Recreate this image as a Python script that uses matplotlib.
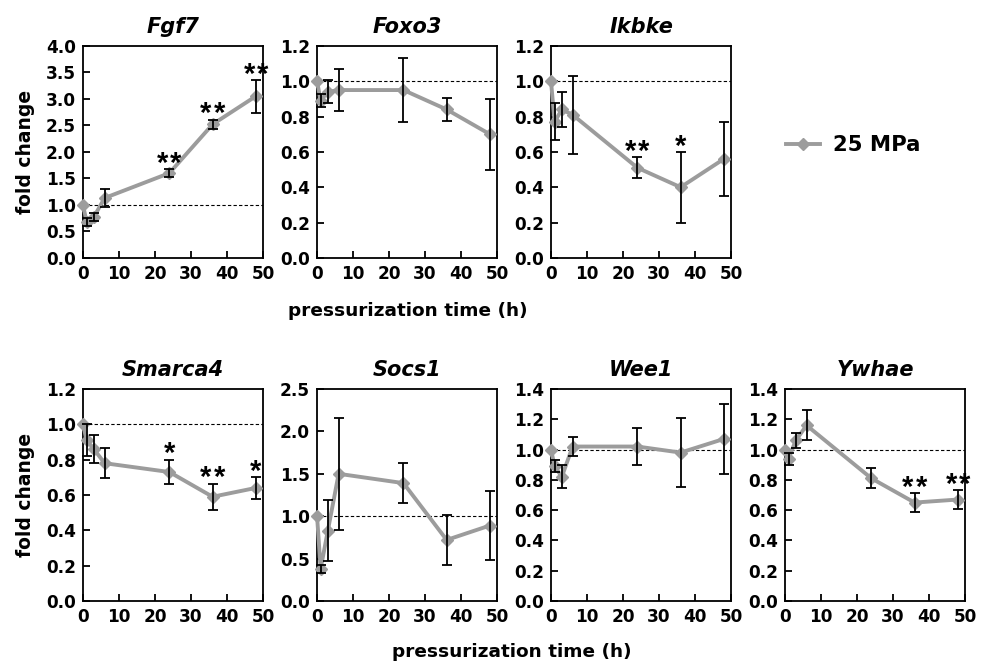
import numpy as np
import matplotlib.pyplot as plt
from matplotlib.lines import Line2D

plt.rcParams['font.family'] = ['DejaVu Sans']
plt.rcParams['font.weight'] = 'bold'

TIMES = [0, 1, 3, 6, 24, 36, 48]

GENES = ['Fgf7', 'Foxo3', 'Ikbke', 'Smarca4', 'Socs1', 'Wee1', 'Ywhae']

fgf7_mean = [1.00, 0.68, 0.77, 1.13, 1.60, 2.52, 3.05]
fgf7_err = [0.00, 0.08, 0.07, 0.17, 0.07, 0.09, 0.31]
fgf7_stars = ['', '', '', '', '**', '**', '**']

foxo3_mean = [1.00, 0.89, 0.94, 0.95, 0.95, 0.84, 0.70]
foxo3_err = [0.00, 0.035, 0.065, 0.12, 0.18, 0.065, 0.20]
foxo3_stars = [''] * 7

ikbke_mean = [1.00, 0.77, 0.84, 0.81, 0.51, 0.40, 0.56]
ikbke_err = [0.00, 0.105, 0.10, 0.22, 0.06, 0.20, 0.21]
ikbke_stars = ['', '', '', '', '**', '*', '']

smarca4_mean = [1.00, 0.91, 0.86, 0.78, 0.73, 0.59, 0.64]
smarca4_err = [0.00, 0.09, 0.08, 0.085, 0.07, 0.075, 0.06]
smarca4_stars = ['', '', '', '', '*', '**', '*']

socs1_mean = [1.00, 0.38, 0.83, 1.50, 1.39, 0.72, 0.89]
socs1_err = [0.00, 0.05, 0.36, 0.66, 0.24, 0.30, 0.41]
socs1_stars = [''] * 7

wee1_mean = [1.00, 0.89, 0.82, 1.02, 1.02, 0.98, 1.07]
wee1_err = [0.00, 0.04, 0.075, 0.06, 0.12, 0.23, 0.23]
wee1_stars = [''] * 7

ywhae_mean = [1.00, 0.94, 1.06, 1.16, 0.81, 0.65, 0.67]
ywhae_err = [0.00, 0.04, 0.05, 0.10, 0.065, 0.06, 0.06]
ywhae_stars = ['', '', '', '', '', '**', '**']

Y_LIMITS = [4.0, 1.2, 1.2, 1.2, 2.5, 1.4, 1.4]
Y_STEPS = [0.5, 0.2, 0.2, 0.2, 0.5, 0.2, 0.2]

SERIES = [
    (fgf7_mean, fgf7_err, fgf7_stars),
    (foxo3_mean, foxo3_err, foxo3_stars),
    (ikbke_mean, ikbke_err, ikbke_stars),
    (smarca4_mean, smarca4_err, smarca4_stars),
    (socs1_mean, socs1_err, socs1_stars),
    (wee1_mean, wee1_err, wee1_stars),
    (ywhae_mean, ywhae_err, ywhae_stars),
]

GREY = '#9c9c9c'

# axes positions in figure fractions (left, bottom)
LEFTS = [0.0840, 0.3209, 0.5577, 0.0840, 0.3209, 0.5577, 0.7945]
BOTTOMS = [0.611, 0.611, 0.611, 0.0935, 0.0935, 0.0935, 0.0935]
W, H = 0.1822, 0.3198


def main():
    fig = plt.figure(figsize=(9.88, 6.63), dpi=100)

    for i, gene in enumerate(GENES):
        mean, err, stars = SERIES[i]
        ax = fig.add_axes([LEFTS[i], BOTTOMS[i], W, H])

        ax.axhline(1.0, color='black', lw=0.8, ls=(0, (3, 2)), zorder=1)
        ax.plot(TIMES, mean, color=GREY, lw=2.8, marker='D', markersize=6.5,
                markeredgecolor=GREY, clip_on=False, zorder=3)

        # no error bar drawn for the 0 h reference point
        t_err = [t for t, e in zip(TIMES, err) if e > 0]
        m_err = [m for m, e in zip(mean, err) if e > 0]
        e_err = [e for e in err if e > 0]
        ax.errorbar(t_err, m_err, yerr=e_err, fmt='none', ecolor='black',
                    elinewidth=1.3, capsize=3.5, capthick=1.3, clip_on=False, zorder=4)

        # significance stars, each star placed on its own so they sit apart
        for t, m, e, s in zip(TIMES, mean, err, stars):
            n = len(s)
            for k in range(n):
                dx = (k - (n - 1) / 2) * 9.5
                ax.annotate('*', xy=(t, m + e), xytext=(dx, -2), textcoords='offset points',
                            ha='center', va='baseline', fontsize=21, fontweight='bold',
                            family='Liberation Sans', annotation_clip=False)

        ax.set_xlim(0, 50)
        ax.set_ylim(0, Y_LIMITS[i])
        ax.set_xticks(np.arange(0, 51, 10))
        ax.set_yticks(np.arange(0, Y_LIMITS[i] + 0.01, Y_STEPS[i]))
        ax.yaxis.set_major_formatter(plt.FormatStrFormatter('%.1f'))
        ax.tick_params(direction='in', length=5, width=1.3, labelsize=12.2, pad=5)
        for sp in ax.spines.values():
            sp.set_linewidth(1.3)
        ax.set_title(gene, fontsize=15, fontstyle='italic', fontweight='bold', pad=9.5)

        if i in (0, 3):
            ax.set_ylabel('fold change', fontsize=13.5, fontweight='bold', labelpad=8)

    fig.text(0.413, 0.531, 'pressurization time (h)', ha='center', va='center',
             fontsize=13.3, fontweight='bold')
    fig.text(0.518, 0.017, 'pressurization time (h)', ha='center', va='center',
             fontsize=13.3, fontweight='bold')

    handle = Line2D([], [], color=GREY, lw=2.8, marker='D', markersize=6.5)
    fig.legend([handle], ['25 MPa'], loc='center left', bbox_to_anchor=(0.796, 0.781),
               frameon=False, prop={'size': 15.3, 'weight': 'bold'}, handlelength=1.6,
               handletextpad=0.6, borderpad=0, borderaxespad=0)

    fig.savefig('out.png', dpi=100)


if __name__ == '__main__':
    main()
